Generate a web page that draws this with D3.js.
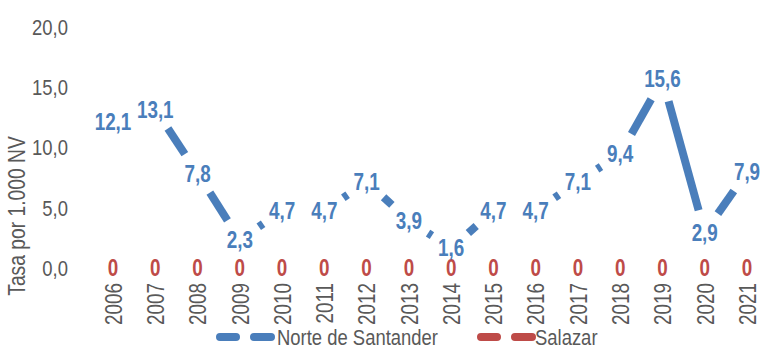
<!DOCTYPE html>
<html>
<head>
<meta charset="utf-8">
<script src="https://cdn.jsdelivr.net/npm/d3@7"></script>
<style>
  html, body { margin: 0; padding: 0; background: #fff; }
  svg { display: block; }
  text { font-family: "Liberation Sans", Arial, sans-serif; }
</style>
</head>
<body>
<svg id="chart" width="761" height="346"></svg>
<script>
const years = ["2006","2007","2008","2009","2010","2011","2012","2013","2014","2015","2016","2017","2018","2019","2020","2021"];
const norteSantander = [12.1, 13.1, 7.8, 2.3, 4.7, 4.7, 7.1, 3.9, 1.6, 4.7, 4.7, 7.1, 9.4, 15.6, 2.9, 7.9];
const salazar = [0, 0, 0, 0, 0, 0, 0, 0, 0, 0, 0, 0, 0, 0, 0, 0];
const yTicks = [0, 5, 10, 15, 20];
const seriesNames = ["Norte de Santander", "Salazar"];
const seriesColors = ["#4a7ebb", "#be4b48"];

const NARROW = 0.82; // emulate a condensed face
const svg = d3.select("#chart");
const x = d3.scalePoint().domain(years).range([113, 747]);
const y = d3.scaleLinear().domain([0, 20]).range([267.5, 26]);
const fmt = v => d3.format(".1f")(v).replace(".", ",");

// Y axis (labels only)
const yAxis = d3.axisLeft(y).tickValues(yTicks).tickFormat(fmt).tickSize(0).tickPadding(0);
const gy = svg.append("g").attr("transform", "translate(68,0)").call(yAxis);
gy.select(".domain").remove();
gy.selectAll("text").attr("font-size", 22.5).attr("fill", "#595959")
  .attr("font-family", '"Liberation Sans", Arial, sans-serif')
  .attr("x", 0).attr("dy", "0.36em")
  .attr("transform", `scale(${NARROW},1)`);

// X axis (rotated labels only)
const xAxis = d3.axisBottom(x).tickSize(0).tickPadding(0);
const gx = svg.append("g").attr("transform", "translate(0,283)").call(xAxis);
gx.select(".domain").remove();
gx.selectAll("text")
  .attr("font-size", 23).attr("fill", "#595959")
  .attr("font-family", '"Liberation Sans", Arial, sans-serif')
  .attr("transform", `rotate(-90) scale(${NARROW},1)`)
  .attr("text-anchor", "end")
  .attr("x", 0).attr("y", 0).attr("dx", 0).attr("dy", "0.36em");

// Y axis title
svg.append("text")
  .attr("transform", `translate(25,216) rotate(-90) scale(${NARROW},1)`)
  .attr("text-anchor", "middle")
  .attr("font-size", 23.5).attr("fill", "#595959")
  .text("Tasa por 1.000 NV");

// Lines: segments trimmed around each point (space for labels)
const gap = 23;
function drawSeries(values, color) {
  const pts = values.map((v, i) => [x(years[i]), y(v)]);
  const segs = d3.pairs(pts).map(([a, b]) => {
    const dx = b[0] - a[0], dy = b[1] - a[1];
    const L = Math.hypot(dx, dy);
    return { a, b, dx, dy, L };
  }).filter(s => s.L > 2 * gap);
  svg.append("g").selectAll("line").data(segs).join("line")
    .attr("x1", s => s.a[0] + s.dx / s.L * gap)
    .attr("y1", s => s.a[1] + s.dy / s.L * gap)
    .attr("x2", s => s.b[0] - s.dx / s.L * gap)
    .attr("y2", s => s.b[1] - s.dy / s.L * gap)
    .attr("stroke", color).attr("stroke-width", 8).attr("stroke-linecap", "butt");
}
drawSeries(salazar, seriesColors[1]);
drawSeries(norteSantander, seriesColors[0]);

// Data labels
function drawLabels(values, color, f) {
  svg.append("g").selectAll("text").data(values).join("text")
    .attr("transform", (d, i) => `translate(${x(years[i])},${y(d)}) scale(${NARROW},1)`)
    .attr("dy", "0.36em")
    .attr("text-anchor", "middle")
    .attr("font-size", 23).attr("font-weight", "bold")
    .attr("fill", color)
    .text(f);
}
drawLabels(salazar, seriesColors[1], d => String(d));
drawLabels(norteSantander, seriesColors[0], fmt);

// Legend
const legendItems = [
  { name: seriesNames[0], color: seriesColors[0], x0: 216, tx: 277 },
  { name: seriesNames[1], color: seriesColors[1], x0: 477, tx: 535 }
];
const lg = svg.append("g");
legendItems.forEach(it => {
  lg.append("line").attr("x1", it.x0 + 4).attr("x2", it.x0 + 55)
    .attr("y1", 337).attr("y2", 337)
    .attr("stroke", it.color).attr("stroke-width", 8)
    .attr("stroke-linecap", "round")
    .attr("stroke-dasharray", "16 18 17");
  lg.append("text")
    .attr("transform", `translate(${it.tx},337) scale(${NARROW},1)`)
    .attr("dy", "0.36em")
    .attr("font-size", 22.5).attr("fill", "#595959").text(it.name);
});
</script>
</body>
</html>
